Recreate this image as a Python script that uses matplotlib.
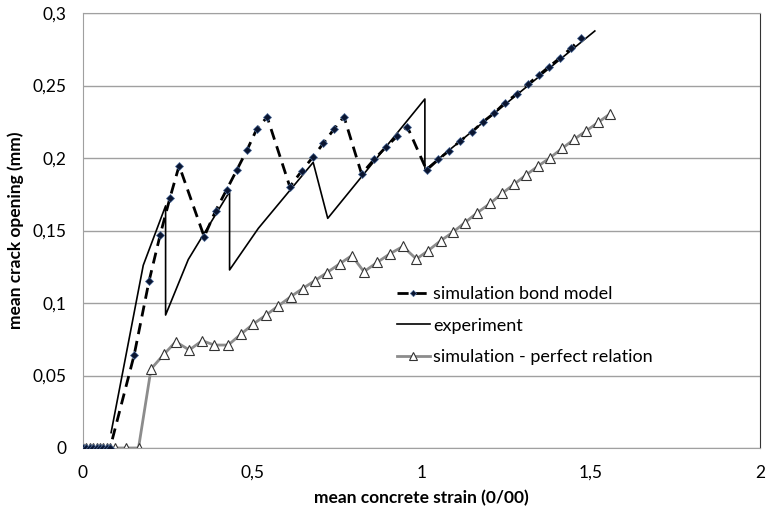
import matplotlib
matplotlib.use("Agg")
import matplotlib.pyplot as plt
from matplotlib.ticker import FuncFormatter

plt.rcParams['font.family'] = ['Lato', 'DejaVu Sans']

# simulation bond model (dashed, diamonds)
bond_x = [0, 0.01, 0.02, 0.03, 0.04, 0.05, 0.06, 0.07, 0.08,
          0.151, 0.195, 0.228, 0.257, 0.284, 0.358, 0.392, 0.424, 0.455,
          0.485, 0.513, 0.544, 0.611, 0.646, 0.68, 0.710, 0.741, 0.771,
          0.823, 0.86, 0.896, 0.929, 0.958, 1.015, 1.05, 1.081, 1.114,
          1.149, 1.182, 1.215, 1.246, 1.281, 1.314, 1.346, 1.377, 1.409,
          1.441, 1.472]
bond_y = [0, 0, 0, 0, 0, 0, 0, 0, 0,
          0.064, 0.115, 0.147, 0.1726, 0.1947, 0.1457, 0.1637, 0.178, 0.192,
          0.2057, 0.2198, 0.2283, 0.1802, 0.191, 0.2009, 0.2101, 0.2198, 0.2285,
          0.189, 0.199, 0.2078, 0.2152, 0.2216, 0.1917, 0.199, 0.205, 0.2117,
          0.218, 0.225, 0.231, 0.238, 0.244, 0.2508, 0.257, 0.263, 0.269,
          0.2756, 0.2826]

# experiment (solid)
exp_x = [0.083, 0.178, 0.244, 0.244, 0.311, 0.433, 0.433, 0.518, 0.68,
         0.723, 1.01, 1.01, 1.512]
exp_y = [0.0106, 0.126, 0.167, 0.0917, 0.130, 0.1768, 0.1228, 0.1515, 0.197,
         0.1584, 0.2407, 0.1917, 0.2876]

# simulation - perfect relation (grey, triangles)
perf_x = [0, 0.01, 0.02, 0.03, 0.04, 0.05, 0.06, 0.07, 0.08, 0.095, 0.126, 0.164,
          0.201, 0.239, 0.274, 0.314, 0.352, 0.388, 0.429, 0.466, 0.503, 0.541,
          0.577, 0.614, 0.649, 0.685, 0.721, 0.758, 0.794, 0.830, 0.869, 0.907,
          0.945, 0.985, 1.019, 1.057, 1.092, 1.128, 1.165, 1.203, 1.238, 1.273,
          1.309, 1.345, 1.380, 1.416, 1.451, 1.486, 1.522, 1.556]
perf_y = [0, 0, 0, 0, 0, 0, 0, 0, 0, 0, 0, 0,
          0.0545, 0.0646, 0.0733, 0.0676, 0.074, 0.071, 0.071, 0.0784, 0.0855, 0.0917,
          0.098, 0.1044, 0.110, 0.1154, 0.121, 0.127, 0.1327, 0.1216, 0.128, 0.1340,
          0.1390, 0.1303, 0.1360, 0.143, 0.1487, 0.1554, 0.1623, 0.1687, 0.1756, 0.1818,
          0.1883, 0.1945, 0.2002, 0.2067, 0.2129, 0.2186, 0.2246, 0.2303]

xticks = [0, 0.5, 1, 1.5, 2]
yticks = [0, 0.05, 0.1, 0.15, 0.2, 0.25, 0.3]

W, H = 767, 513
fig = plt.figure(figsize=(W / 100, H / 100), dpi=100)
ax = fig.add_axes([83 / W, 1 - 448 / H, (760 - 83) / W, (448 - 13) / H])

ax.plot(exp_x, exp_y, color='black', lw=1.2, label='experiment', zorder=3)
ax.plot(perf_x, perf_y, color='#8c8c8c', lw=2, marker='^', ms=7,
        mfc='white', mec='#333333', mew=0.8,
        label='simulation - perfect relation', zorder=2)
ax.plot(bond_x, bond_y, color='black', lw=2, ls=(0, (4, 2.5)), marker='D', ms=4,
        mfc='#0a1530', mec='#4a6a9a', mew=0.5,
        label='simulation bond model', zorder=4)

ax.set_xlim(0, 2)
ax.set_ylim(0, 0.3)
ax.set_xticks(xticks)
ax.set_yticks(yticks)
fmt = FuncFormatter(lambda v, p: ('%g' % v).replace('.', ','))
ax.xaxis.set_major_formatter(fmt)
ax.yaxis.set_major_formatter(fmt)
ax.tick_params(length=0, labelsize=12.5)
ax.tick_params(axis='y', pad=12)
ax.tick_params(axis='x', pad=12)
ax.grid(axis='y', color='#a0a0a0', lw=1)
ax.set_axisbelow(True)
for side in ['top', 'left', 'bottom']:
    ax.spines[side].set_color('#a0a0a0')
ax.spines['right'].set_color('#333333')

ax.set_xlabel('mean concrete strain (0/00)', fontweight='bold', fontsize=12.5, labelpad=7)
ax.set_ylabel('mean crack opening (mm)', fontweight='bold', fontsize=12.5, labelpad=6)

h, l = ax.get_legend_handles_labels()
order = [2, 0, 1]
ax.legend([h[i] for i in order], [l[i] for i in order], loc='upper left',
          bbox_to_anchor=(0.464, 0.372), frameon=False, fontsize=13,
          borderaxespad=0, borderpad=0, markerscale=0.8,
          handlelength=1.8, handletextpad=0.2, labelspacing=0.85)

fig.savefig('out.png', dpi=100)
